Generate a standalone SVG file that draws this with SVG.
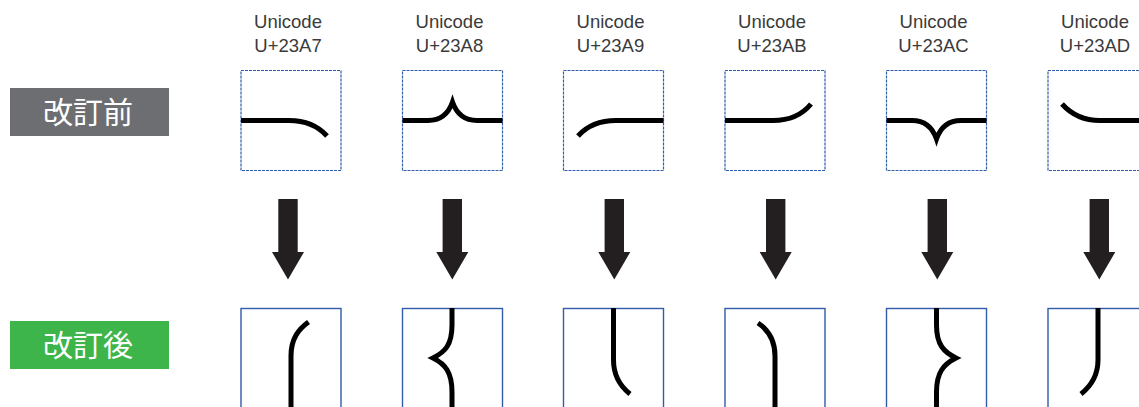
<svg xmlns="http://www.w3.org/2000/svg" width="1139" height="407" viewBox="0 0 1139 407">
<style>
.lbl{font-family:"Liberation Sans",Arial,sans-serif;font-size:18.5px;fill:#3a3a3a;text-anchor:middle}
.tag{font-family:"Noto Sans CJK JP","Noto Sans",sans-serif;font-size:30px;fill:#ffffff;text-anchor:middle}
.boxT{fill:#ffffff;stroke:#2f5cab;stroke-width:1.2;stroke-dasharray:3 1}
.boxB{fill:#ffffff;stroke:#2f5cab;stroke-width:1.4}
.g{fill:none;stroke:#000000;stroke-width:5;stroke-linecap:butt;stroke-linejoin:miter}
.arr{fill:#231f20}
</style>
<rect width="1139" height="407" fill="#ffffff"/>
<g id="label-before">
<rect x="10" y="88" width="159" height="48" fill="#6d6e71"/>
<text class="tag" x="88" y="123">改訂前</text>
</g>
<g id="label-after">
<rect x="10" y="321" width="159" height="48" fill="#3db54a"/>
<text class="tag" x="88" y="356">改訂後</text>
</g>
<g id="col-23A7">
<text class="lbl" x="288" y="28">Unicode</text>
<text class="lbl" x="288" y="51.5">U+23A7</text>
<rect class="boxT" x="241" y="70.5" width="100" height="100"/>
<path class="g" d="M241,120.5 H289 C306,120.5 318,126 327,136"/>
<rect class="boxB" x="241" y="308.5" width="100" height="110"/>
<path class="g" d="M308.5,322 C299,329 291,338 291,356 V407"/>
</g>
<g id="col-23A8">
<text class="lbl" x="449.5" y="28">Unicode</text>
<text class="lbl" x="449.5" y="51.5">U+23A8</text>
<rect class="boxT" x="402.5" y="70.5" width="100" height="100"/>
<path class="g" d="M402.5,120.5 H428 C440,120.5 448,115 452.5,102 C457,115 465,120.5 477,120.5 H502.5"/>
<rect class="boxB" x="402.5" y="308.5" width="100" height="110"/>
<path class="g" d="M452,308 V325 C452,345 445,352 433,358 C445,364 452,372 452,392 V407"/>
</g>
<g id="col-23A9">
<text class="lbl" x="610.5" y="28">Unicode</text>
<text class="lbl" x="610.5" y="51.5">U+23A9</text>
<rect class="boxT" x="563.5" y="70.5" width="100" height="100"/>
<path class="g" d="M663.5,120.5 H616 C599,120.5 587,126 578,136"/>
<rect class="boxB" x="563.5" y="308.5" width="100" height="110"/>
<path class="g" d="M613.5,308 V360 C613.5,376 620,386 630,394"/>
</g>
<g id="col-23AB">
<text class="lbl" x="772" y="28">Unicode</text>
<text class="lbl" x="772" y="51.5">U+23AB</text>
<rect class="boxT" x="725" y="70.5" width="100" height="100"/>
<path class="g" d="M725,120.5 H773 C790,120.5 802,115 811,104"/>
<rect class="boxB" x="725" y="308.5" width="100" height="110"/>
<path class="g" d="M758,323 C767,329 775,338 775,356 V407"/>
</g>
<g id="col-23AC">
<text class="lbl" x="933.5" y="28">Unicode</text>
<text class="lbl" x="933.5" y="51.5">U+23AC</text>
<rect class="boxT" x="886.5" y="70.5" width="100" height="100"/>
<path class="g" d="M886.5,120.5 H912 C924,120.5 932,126 936.5,139 C941,126 949,120.5 961,120.5 H986.5"/>
<rect class="boxB" x="886.5" y="308.5" width="100" height="110"/>
<path class="g" d="M936.5,308 V325 C936.5,345 944,352 956,358 C944,364 936.5,372 936.5,392 V407"/>
</g>
<g id="col-23AD">
<text class="lbl" x="1095" y="28">Unicode</text>
<text class="lbl" x="1095" y="51.5">U+23AD</text>
<rect class="boxT" x="1048" y="70.5" width="100" height="100"/>
<path class="g" d="M1062,104 C1071,114 1083,120.5 1100,120.5 H1139"/>
<rect class="boxB" x="1048" y="308.5" width="100" height="110"/>
<path class="g" d="M1098,308 V360 C1098,376 1091,386 1081,394"/>
</g>
<g id="connectors">
<path class="arr" d="M278.3,199 H297.7 V252 H304 L288,279.5 L272,252 H278.3 Z"/>
<path class="arr" d="M442.6,199 H462 V252 H468.3 L452.3,279.5 L436.3,252 H442.6 Z"/>
<path class="arr" d="M604.6,199 H624 V252 H630.3 L614.3,279.5 L598.3,252 H604.6 Z"/>
<path class="arr" d="M766,199 H785.4 V252 H791.7 L775.7,279.5 L759.7,252 H766 Z"/>
<path class="arr" d="M927.6,199 H947 V252 H953.3 L937.3,279.5 L921.3,252 H927.6 Z"/>
<path class="arr" d="M1089.6,199 H1109 V252 H1115.3 L1099.3,279.5 L1083.3,252 H1089.6 Z"/>
</g>
</svg>
